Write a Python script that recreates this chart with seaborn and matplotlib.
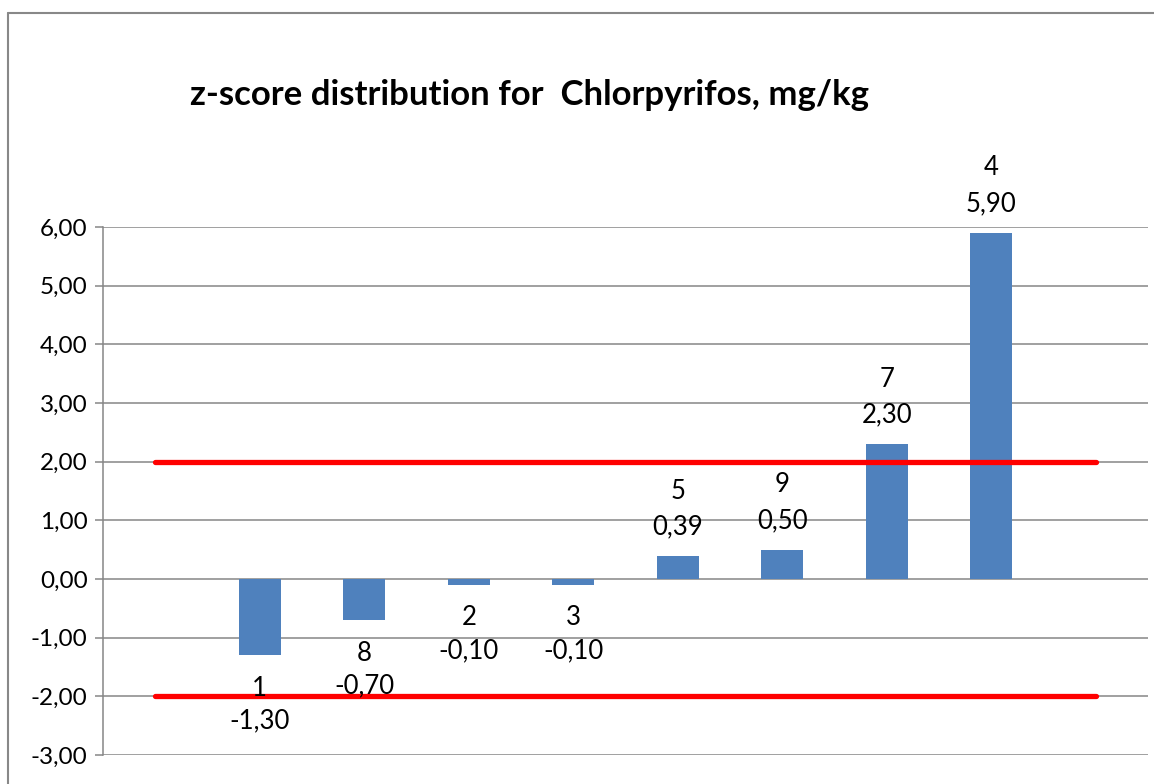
import matplotlib
matplotlib.use("Agg")
import matplotlib.pyplot as plt
from matplotlib.lines import Line2D
import seaborn as sns
import pandas as pd

# ---- data ----
labs = ["1", "8", "2", "3", "5", "9", "7", "4"]
zvals = [-1.30, -0.70, -0.10, -0.10, 0.39, 0.50, 2.30, 5.90]
slots = ["_pad0"] + labs + ["_pad1"]       # empty category at each end
upper_limit = 2.0
lower_limit = -2.0
yticks = [-3, -2, -1, 0, 1, 2, 3, 4, 5, 6]
title = "z-score distribution for  Chlorpyrifos, mg/kg"

sns.set_theme(style="white")
plt.rcParams['font.family'] = ['Lato', 'DejaVu Sans']

fig = plt.figure(figsize=(11.54, 7.84), dpi=100)
ax = fig.add_axes([103/1154, 1-755/784, (1148-103)/1154, (755-227)/784])

df = pd.DataFrame({"cat": labs, "z": zvals})
sns.barplot(data=df, x="cat", y="z", order=slots, color="#4F81BD",
            saturation=1, width=0.4, linewidth=0, edgecolor="none",
            ax=ax, zorder=3)

xs = list(range(len(slots)))
ax.plot(xs, [upper_limit]*len(xs), color="#FF0000", lw=3.8,
        solid_capstyle="round", zorder=4)
ax.plot(xs, [lower_limit]*len(xs), color="#FF0000", lw=3.8,
        solid_capstyle="round", zorder=4)

ax.set_xlim(-0.5, len(slots) - 0.5)
ax.set_ylim(-3, 6)
ax.set_yticks(yticks)
ax.set_yticklabels([f"{v:.2f}".replace(".", ",") for v in yticks], fontsize=17.5)
ax.set_xticks([])
ax.set_xlabel("")
ax.set_ylabel("")
ax.yaxis.grid(True, color="#868686", lw=1.1, zorder=0)
ax.set_axisbelow(True)
for s in ["top", "right", "bottom"]:
    ax.spines[s].set_visible(False)
ax.spines["left"].set_color("#868686")
ax.spines["left"].set_linewidth(1.1)
ax.tick_params(axis="y", left=True, length=6, width=1.1, color="#868686",
               pad=5, labelcolor="black")

for i, (lab, v) in enumerate(zip(labs, zvals)):
    x = i + 1
    valtxt = f"{v:.2f}".replace(".", ",")
    off1, off2 = (29, 65) if v >= 0 else (-66, -33)
    ax.annotate(valtxt, (x, v), xytext=(0, off1),
                textcoords="offset pixels", ha="center", va="center",
                fontsize=18.5, color="black", zorder=5)
    ax.annotate(lab, (x, v), xytext=(0, off2),
                textcoords="offset pixels", ha="center", va="center",
                fontsize=18.5, color="black", zorder=5)

fig.text(530/1154, 1-95/784, title, ha="center", va="center",
         fontsize=25, fontweight="bold", color="black")

# outer chart border (left and top edges visible)
bx, by = 8/1154, 1 - 13/784
fig.add_artist(Line2D([bx, bx], [0, by], transform=fig.transFigure,
                      color="#888888", lw=1.5))
fig.add_artist(Line2D([bx, 1], [by, by], transform=fig.transFigure,
                      color="#888888", lw=1.5))

fig.savefig("out.png", dpi=100)
